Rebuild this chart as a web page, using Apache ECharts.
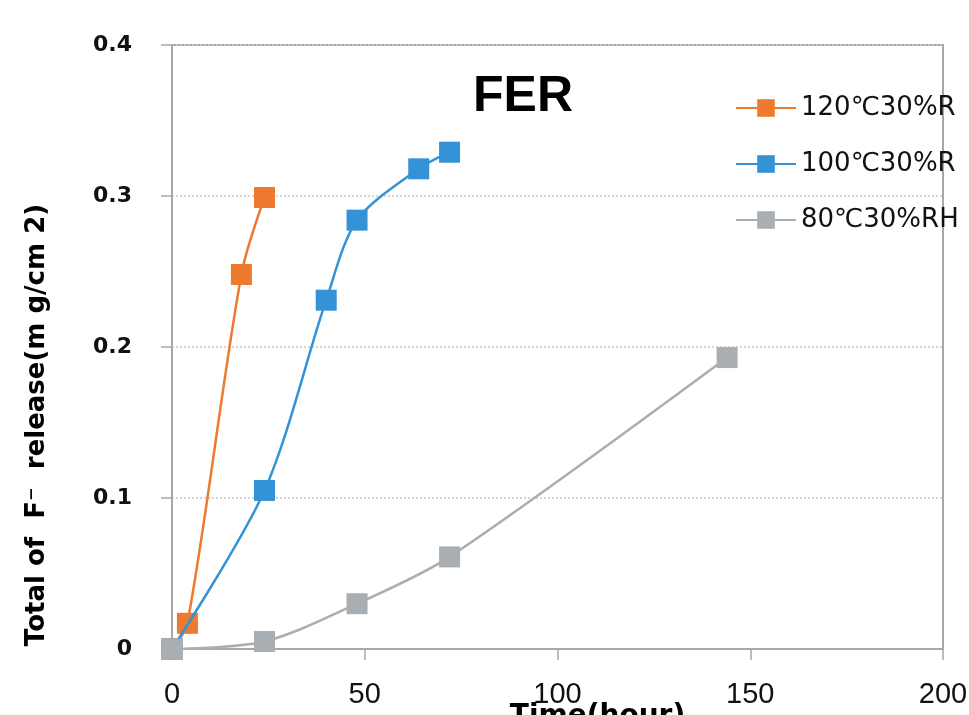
<!DOCTYPE html>
<html>
<head>
<meta charset="utf-8">
<script src="https://cdn.jsdelivr.net/npm/echarts@6/dist/echarts.min.js"></script>
<style>
html,body{margin:0;padding:0;background:#fff;}
#chart{width:969px;height:715px;}
</style>
</head>
<body>
<div id="chart"></div>
<script>
const chartTitle = 'FER';
const seriesNames = ['120℃30%R', '100℃30%R', '80℃30%RH'];
const hours120 = [0, 4, 18, 24];
const release120 = [0, 0.017, 0.248, 0.299];
const hours100 = [0, 24, 40, 48, 64, 72];
const release100 = [0, 0.105, 0.231, 0.284, 0.318, 0.329];
const hours80 = [0, 24, 48, 72, 144];
const release80 = [0, 0.005, 0.030, 0.061, 0.193];
const xTicks = [0, 50, 100, 150, 200];
const yTicks = [0, 0.1, 0.2, 0.3, 0.4];
const xTitle = 'Time(hour)';
const yTitle = 'Total of  F⁻  release(m g/cm 2)';
const colors = ['#EE7A30', '#3393D6', '#A9AEB2'];

const pairs = (xs, ys) => xs.map((x, i) => [x, ys[i]]);
const seriesData = [pairs(hours120, release120), pairs(hours100, release100), pairs(hours80, release80)];

const chart = echarts.init(document.getElementById('chart'));
chart.setOption({
  animation: false,
  backgroundColor: '#fff',
  title: {
    text: chartTitle,
    left: 473, top: 72, padding: 0,
    textStyle: { fontFamily: 'Liberation Sans, Arial, sans-serif', fontWeight: 'bold', fontSize: 50, color: '#000' }
  },
  legend: {
    orient: 'vertical',
    left: 730, top: 90,
    itemWidth: 60, itemHeight: 22, itemGap: 30,
    data: seriesNames,
    textStyle: { fontFamily: 'DejaVu Sans, sans-serif', fontSize: 26, color: '#111' }
  },
  grid: {
    left: 172, right: 26, top: 45, bottom: 66,
    containLabel: false, outerBoundsMode: 'none',
    show: true, borderColor: '#A8A8A8', borderWidth: 2, backgroundColor: 'transparent'
  },
  xAxis: {
    type: 'value', min: xTicks[0], max: xTicks[xTicks.length - 1], interval: 50,
    name: xTitle, nameLocation: 'middle', nameGap: 54, nameMoveOverlap: false,
    nameTextStyle: { fontFamily: 'DejaVu Sans, sans-serif', fontWeight: 'bold', fontSize: 28, color: '#000', padding: [0, 0, 0, 80] },
    axisLine: { show: true, lineStyle: { color: '#A8A8A8', width: 2 } },
    axisTick: { show: true, inside: false, length: 11, lineStyle: { color: '#A8A8A8', width: 1.5 } },
    axisLabel: { margin: 31, fontFamily: 'Liberation Sans, Arial, sans-serif', fontSize: 29, color: '#111' },
    splitLine: { show: false }
  },
  yAxis: {
    type: 'value', min: yTicks[0], max: yTicks[yTicks.length - 1], interval: 0.1,
    name: yTitle, nameLocation: 'middle', nameGap: 122, nameMoveOverlap: false,
    nameTextStyle: { fontFamily: 'DejaVu Sans, sans-serif', fontWeight: 'bold', fontSize: 26, color: '#000', padding: [0, 156, 0, 0] },
    axisLine: { show: true, lineStyle: { color: '#A8A8A8', width: 2 } },
    axisTick: { show: true, inside: false, length: 11, lineStyle: { color: '#A8A8A8', width: 1.5 } },
    axisLabel: { margin: 40, fontFamily: 'DejaVu Sans, sans-serif', fontWeight: 'bold', fontSize: 22, color: '#111',
      formatter: v => (v === 0 ? '0' : v.toFixed(1)) },
    splitLine: { show: true, lineStyle: { color: '#C8C8C8', type: [2, 2], width: 1.5 } }
  },
  series: seriesNames.map((name, i) => ({
    name: name,
    type: 'line',
    data: seriesData[i],
    smooth: 0.3,
    symbol: 'rect',
    symbolSize: 21,
    color: colors[i],
    lineStyle: { color: colors[i], width: 2.5 },
    itemStyle: { color: colors[i] },
    z: 2 + i
  }))
});
</script>
</body>
</html>
